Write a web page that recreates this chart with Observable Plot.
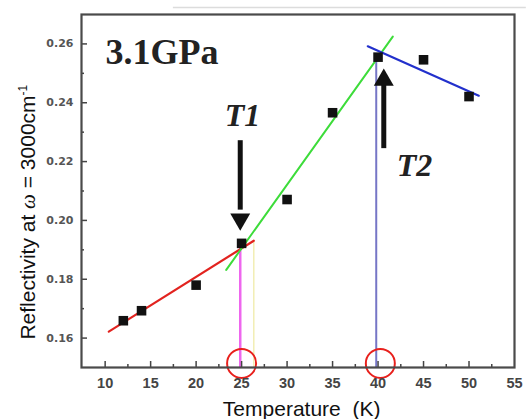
<!DOCTYPE html>
<html><head><meta charset="utf-8">
<script src="https://cdn.jsdelivr.net/npm/d3@7"></script>
<script src="https://cdn.jsdelivr.net/npm/@observablehq/plot@0.6"></script>
<style>body{margin:0;background:#fff}#chart svg{display:block}</style>
</head><body><div id="chart"></div>
<script>
// ---- data ----
const temperature = [12, 14, 20, 25, 30, 35, 40, 45, 50];
const reflectivity = [0.1659, 0.1693, 0.1780, 0.1922, 0.2071, 0.2366, 0.2555, 0.2546, 0.2421];

// linear fits (endpoints)
const fitRedX = [10.40, 26.34], fitRedY = [0.1622, 0.1931];
const fitGreenX = [23.31, 41.62], fitGreenY = [0.1832, 0.2625];
const fitBlueX = [38.87, 51.07], fitBlueY = [0.2592, 0.2424];

// transition markers
const t1Line = {x: 24.85, top: 0.1922};
const t1Faint = {x: 26.34, top: 0.1931};
const t2Line = {x: 39.8, top: 0.2555};
const circleX = [25, 40.25], circleY = [0.1514, 0.1514];

// arrows: shaft x, shaft from y1 to y2, head centroid y, head rotation
const arrowX = [24.85, 40.63];
const arrowY1 = [0.2271, 0.2244];
const arrowY2 = [0.2035, 0.2462];
const headY = [0.2004, 0.2477];
const headRot = [180, 0];

// labels
const pressureLabel = "3.1GPa", pressureX = 10.04, pressureY = 0.2533;
const tLabels = ["T1", "T2"], tLabelX = [25.1, 44.0], tLabelY = [0.2322, 0.2152];
const xTitle = "Temperature\u00a0\u00a0(K)", xTitleX = 31.6, xTitleY = 0.1336;
const yTitle = "Reflectivity at \u03c9 = 3000cm-1", yTitleX = 1.57, yTitleY = 0.2028;

// ticks
const xTicks = [10, 15, 20, 25, 30, 35, 40, 45, 50, 55];
const xMinor = [12.5, 17.5, 22.5, 27.5, 32.5, 37.5, 42.5, 47.5, 52.5];
const yTicks = [0.16, 0.18, 0.20, 0.22, 0.24, 0.26];
const yMinor = [0.17, 0.19, 0.21, 0.23, 0.25];

// ---- layout ----
const W = 526, H = 419, mL = 81, mR = 12, mT = 14, mB = 52;
const xDom = [7.4, 55], yDom = [0.15, 0.27];
const kx = (W - mL - mR) / (xDom[1] - xDom[0]);
const ky = (H - mT - mB) / (yDom[1] - yDom[0]);

const pts = temperature.map((t, i) => ({t, r: reflectivity[i]}));
const seg = (xs, ys) => xs.map((x, i) => ({x, y: ys[i]}));
const arrows = arrowX.map((x, i) => ({x, y1: arrowY1[i], y2: arrowY2[i], hy: headY[i], rot: headRot[i]}));
const circles = circleX.map((x, i) => ({x, y: circleY[i]}));

const chart = Plot.plot({
  width: W, height: H,
  marginLeft: mL, marginRight: mR, marginTop: mT, marginBottom: mB,
  x: {domain: xDom},
  y: {domain: yDom},
  style: {background: "#fff", fontFamily: "Liberation Sans, Arial, sans-serif"},
  marks: [
    // scan artifact line above frame
    Plot.ruleY([0.2724], {y: d => d, x1: 17.5, x2: 56.3, stroke: "#dcdcdc", strokeWidth: 1.5}),
    // vertical guide lines
    Plot.ruleX([t1Faint], {x: "x", y1: yDom[0], y2: "top", stroke: "#f2eeb4", strokeWidth: 1.5}),
    Plot.ruleX([t1Line], {x: "x", y1: yDom[0], y2: "top", stroke: "#ee66ee", strokeWidth: 2.5}),
    Plot.ruleX([t2Line], {x: "x", y1: yDom[0], y2: "top", stroke: "#7676c6", strokeWidth: 2}),
    // fits
    Plot.line(seg(fitRedX, fitRedY), {x: "x", y: "y", stroke: "#e2231f", strokeWidth: 2.2}),
    Plot.line(seg(fitGreenX, fitGreenY), {x: "x", y: "y", stroke: "#3ddc3a", strokeWidth: 2}),
    Plot.line(seg(fitBlueX, fitBlueY), {x: "x", y: "y", stroke: "#2230cc", strokeWidth: 2.2}),
    // data
    Plot.dot(pts, {x: "t", y: "r", symbol: "square", r: 5.4, fill: "#111", stroke: "none"}),
    // arrows
    Plot.ruleX(arrows, {x: "x", y1: "y1", y2: "y2", stroke: "#111", strokeWidth: 5}),
    Plot.dot(arrows, {x: "x", y: "hy", symbol: "triangle", r: 7.4, fill: "#111", stroke: "none", rotate: "rot"}),
    // red circles
    Plot.dot(circles, {x: "x", y: "y", r: 14.5, stroke: "#e8201c", strokeWidth: 2, fill: "none"}),
    // inward ticks
    Plot.ruleX(xTicks.filter(d => d < 55), {x: d => d, y1: yDom[0], y2: yDom[0] + 6 / ky, stroke: "#444", strokeWidth: 1.5}),
    Plot.ruleX(xMinor, {x: d => d, y1: yDom[0], y2: yDom[0] + 3 / ky, stroke: "#444", strokeWidth: 1.5}),
    Plot.ruleY(yTicks, {y: d => d, x1: xDom[0], x2: xDom[0] + 6 / kx, stroke: "#444", strokeWidth: 1.5}),
    Plot.ruleY(yMinor, {y: d => d, x1: xDom[0], x2: xDom[0] + 3 / kx, stroke: "#444", strokeWidth: 1.5}),
    Plot.frame({stroke: "#4a4a4a", strokeWidth: 2.2}),
    // tick labels
    Plot.axisX(xTicks, {tickSize: 0, tickPadding: 10, fontSize: 14.5, fontWeight: "bold", fill: "#444", fontFamily: "Liberation Sans, Arial, sans-serif", label: null}),
    Plot.axisY(yTicks, {tickSize: 0, tickPadding: 8, fontSize: 11, fontWeight: "bold", fill: "#555", fontFamily: "DejaVu Sans, sans-serif", tickFormat: d => d.toFixed(2), label: null}),
    // annotations
    Plot.text([pressureLabel], {x: () => pressureX, y: () => pressureY, text: d => d, textAnchor: "start", lineAnchor: "bottom", fontSize: 36, fontWeight: "bold", fontFamily: "Liberation Serif, Times New Roman, serif", fill: "#222"}),
    Plot.text(tLabels, {x: (d, i) => tLabelX[i], y: (d, i) => tLabelY[i], text: d => d, textAnchor: "middle", lineAnchor: "bottom", fontSize: 32, fontWeight: "bold", fontStyle: "italic", fontFamily: "Liberation Serif, Times New Roman, serif", fill: "#222"}),
    Plot.text([xTitle], {x: () => xTitleX, y: () => xTitleY, text: d => d, textAnchor: "middle", lineAnchor: "bottom", fontSize: 21, fill: "#111", fontFamily: "Liberation Sans, Arial, sans-serif"}),
    Plot.text([yTitle], {x: () => yTitleX, y: () => yTitleY, text: d => d, rotate: -90, textAnchor: "middle", lineAnchor: "middle", fontSize: 21, fill: "#111", fontFamily: "Liberation Sans, Arial, sans-serif"})
  ]
});
document.getElementById("chart").appendChild(chart);

// rich formatting for y title: italic serif omega and superscript -1
for (const el of chart.querySelectorAll("text")) {
  if (el.textContent === yTitle) {
    el.textContent = "";
    const ns = "http://www.w3.org/2000/svg";
    const add = (s, attrs) => {
      const t = document.createElementNS(ns, "tspan");
      t.textContent = s;
      for (const k in attrs) t.setAttribute(k, attrs[k]);
      el.appendChild(t);
    };
    add("Reflectivity at ", {});
    add("\u03c9", {"font-family": "Liberation Serif, serif", "font-style": "italic"});
    add(" = 3000cm", {});
    add("-1", {"font-size": 12, dy: "-8"});
  }
}
</script>
</body></html>
